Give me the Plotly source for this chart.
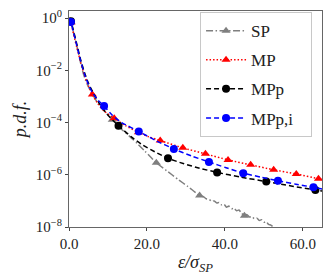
import plotly.graph_objects as go

# ---- data (x in units of sigma_SP, y given as log10 of p.d.f.) ----
sp_x = [0.25, 0.5, 1.0, 1.5, 2.0, 2.5, 3.0, 3.5, 4.0, 5.0, 6.0, 7.5, 9.0, 11.1, 13.0, 15.7, 17.5,
        19.5, 22.4, 25.0, 28.0, 30.5, 33.5, 34.5, 35.2, 36.0, 36.6, 37.2, 37.9, 38.5, 39.1, 39.8,
        40.4, 41.0, 41.7, 42.3, 43.0, 43.6, 44.2, 45.0, 45.6, 46.3, 46.9, 47.5, 48.2, 48.8, 49.4,
        50.0, 50.6, 51.2, 51.8, 52.4]
sp_log = [0.0, -0.15, -0.45, -0.76, -1.06, -1.4, -1.73, -2.03, -2.28, -2.64, -2.92, -3.28, -3.55,
          -3.89, -4.2, -4.55, -4.8, -5.1, -5.54, -5.84, -6.18, -6.45, -6.79, -6.84, -6.92, -6.95,
          -7.02, -7.0, -7.08, -7.06, -7.15, -7.13, -7.24, -7.2, -7.3, -7.28, -7.38, -7.35, -7.46,
          -7.57, -7.52, -7.62, -7.6, -7.68, -7.66, -7.75, -7.72, -7.82, -7.8, -7.9, -7.93, -8.0]
sp_mx = [0.5, 11.1, 22.4, 33.5, 45.0]
sp_mlog = [-0.15, -3.89, -5.54, -6.79, -7.57]

mp_x = [0.25, 0.5, 1.0, 1.5, 2.0, 3.0, 4.0, 5.0, 6.0, 7.5, 9.0, 11.6, 14.5, 17.8, 20.5, 23.4,
        29.2, 35.0, 40.8, 46.6, 52.5, 58.3, 64.0, 65.2]
mp_log = [0.0, -0.17, -0.5, -0.82, -1.12, -1.7, -2.2, -2.6, -2.93, -3.3, -3.56, -3.84, -4.12,
          -4.37, -4.55, -4.69, -4.97, -5.2, -5.43, -5.62, -5.81, -5.97, -6.15, -6.19]
mp_mx = [0.5, 6.0, 11.6, 17.8, 23.4, 29.2, 35.0, 40.8, 46.6, 52.5, 58.3, 64.0]
mp_mlog = [-0.17, -2.93, -3.84, -4.37, -4.69, -4.97, -5.2, -5.43, -5.62, -5.81, -5.97, -6.15]

mpp_x = [0.25, 0.5, 1.0, 2.0, 3.0, 4.0, 5.0, 6.0, 8.0, 10.0, 12.7, 16.0, 19.0, 22.0, 25.4, 29.5,
         33.5, 38.0, 44.0, 50.6, 57.0, 63.2, 65.2]
mpp_log = [0.0, -0.12, -0.4, -1.0, -1.6, -2.1, -2.5, -2.8, -3.32, -3.72, -4.12, -4.55, -4.87,
           -5.12, -5.37, -5.58, -5.75, -5.91, -6.09, -6.26, -6.43, -6.58, -6.63]
mpp_mx = [0.5, 12.7, 25.4, 38.0, 50.6, 63.2]
mpp_mlog = [-0.12, -4.12, -5.37, -5.91, -6.26, -6.58]

mppi_x = [0.25, 0.5, 1.0, 2.0, 3.0, 4.0, 5.0, 6.0, 7.5, 9.0, 11.0, 13.5, 17.9, 22.4, 26.9, 31.4,
          35.9, 40.3, 44.7, 49.2, 53.6, 58.2, 62.7, 65.2]
mppi_log = [0.0, -0.15, -0.45, -1.05, -1.65, -2.15, -2.55, -2.85, -3.15, -3.37, -3.7, -4.0,
            -4.34, -4.7, -5.01, -5.28, -5.51, -5.73, -5.94, -6.09, -6.23, -6.36, -6.48, -6.55]
mppi_mx = [0.5, 9.0, 17.9, 26.9, 35.9, 44.7, 53.6, 62.7]
mppi_mlog = [-0.15, -3.37, -4.34, -5.01, -5.51, -5.94, -6.23, -6.48]

names = ["SP", "MP", "MPp", "MPp,i"]
y_tickvals = [1e-8, 1e-6, 1e-4, 1e-2, 1]
y_ticktext = ["10<sup>\u22128</sup>", "10<sup>\u22126</sup>", "10<sup>\u22124</sup>",
              "10<sup>\u22122</sup>", "10<sup>0</sup>"]
x_tickvals = [0, 20, 40, 60]
x_ticktext = ["0.0", "20.0", "40.0", "60.0"]

FONT = "Liberation Serif"

series = [
    (names[0], sp_x, sp_log, sp_mx, sp_mlog, "#7f7f7f", "7px,2.5px,1.5px,2.5px", "triangle-up"),
    (names[1], mp_x, mp_log, mp_mx, mp_mlog, "#ff0000", "1.5px,2px", "triangle-up"),
    (names[2], mpp_x, mpp_log, mpp_mx, mpp_mlog, "#000000", "5px,3px", "circle"),
    (names[3], mppi_x, mppi_log, mppi_mx, mppi_mlog, "#0000ff", "5px,3px", "circle"),
]

fig = go.Figure()
for name, lx, llog, mx, mlog, color, dash, symbol in series:
    fig.add_trace(go.Scatter(
        x=lx, y=[10 ** v for v in llog], mode="lines",
        line=dict(color=color, dash=dash, width=1.5, shape="spline", smoothing=0.6),
        showlegend=False, hoverinfo="skip"))
    fig.add_trace(go.Scatter(
        x=mx, y=[10 ** v for v in mlog], mode="markers",
        marker=dict(symbol=symbol, size=8, color=color, line=dict(width=0)),
        showlegend=False, hoverinfo="skip"))
    fig.add_trace(go.Scatter(
        x=[None], y=[None], mode="lines+markers",
        name=name + "\u00a0\u00a0\u00a0" if name == names[3] else name, legendgroup=name,
        line=dict(color=color, dash=dash, width=1.5),
        marker=dict(symbol=symbol, size=8, color=color, line=dict(width=0))))

fig.update_layout(
    width=332, height=277,
    margin=dict(l=69, r=10, t=8, b=50),
    paper_bgcolor="white", plot_bgcolor="white",
    font=dict(family=FONT, size=15, color="#222"),
    legend=dict(x=0.518, y=0.995, xanchor="left", yanchor="top",
                bgcolor="white", bordercolor="#c8c8c8", borderwidth=1,
                font=dict(family=FONT, size=17, color="#222"),
                itemwidth=40, traceorder="grouped", tracegroupgap=4),
    xaxis=dict(range=[0, 64.9], tickvals=x_tickvals, ticktext=x_ticktext,
               showgrid=False, zeroline=False, showline=True, linecolor="#666",
               linewidth=1, mirror=True, ticks="outside", ticklen=3, tickcolor="#444",
               tickfont=dict(family=FONT, size=15),
               title=dict(text="<i>\u03b5/\u03c3<sub>SP</sub></i>", font=dict(family=FONT, size=18),
                          standoff=2)),
    yaxis=dict(type="log", range=[-8, 0.27], tickvals=y_tickvals, ticktext=y_ticktext,
               showgrid=False, zeroline=False, showline=True, linecolor="#666",
               linewidth=1, mirror=True, ticks="outside", ticklen=3, tickcolor="#444",
               tickfont=dict(family=FONT, size=15),
               title=dict(text="<i>p.d.f.</i>", font=dict(family=FONT, size=18), standoff=4)),
)

fig.write_html("out.html", post_script="document.body.style.margin='0';",
               config={"displayModeBar": False})
